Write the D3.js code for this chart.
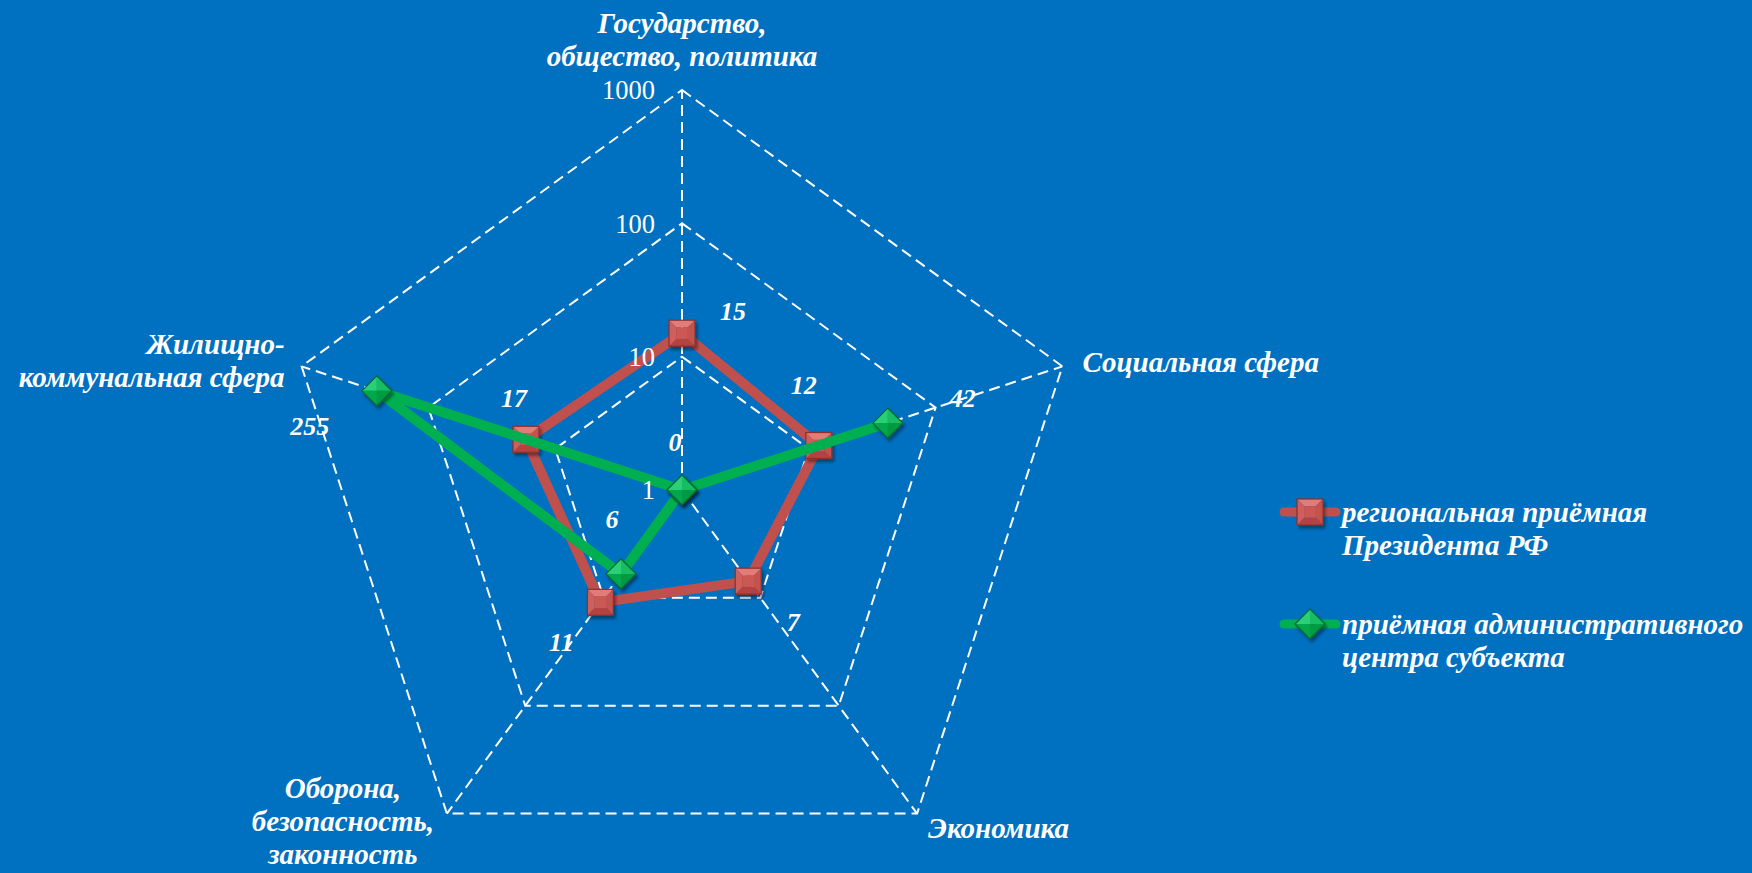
<!DOCTYPE html>
<html>
<head>
<meta charset="utf-8">
<script src="https://cdn.jsdelivr.net/npm/d3@7"></script>
<style>
  html, body { margin: 0; padding: 0; background: #0070C0; overflow: hidden; }
  svg { display: block; }
  text { font-family: "Liberation Serif", "Times New Roman", serif; fill: #fff; }
</style>
</head>
<body>
<svg id="chart" width="1752" height="873"></svg>
<script>
// categories (clockwise from top)
var categories = [
  ["Государство,", "общество, политика"],
  ["Социальная сфера"],
  ["Экономика"],
  ["Оборона,", "безопасность,", "законность"],
  ["Жилищно-", "коммунальная сфера"]
];
var seriesNames = [
  ["региональная приёмная", "Президента РФ"],
  ["приёмная административного", "центра субъекта"]
];
var redValues = [15, 12, 7, 11, 17];
var greenValues = [0, 42, 0, 6, 255];
var redLabels = ["15", "12", "7", "11", "17"];
var greenLabels = ["0", "42", "", "6", "255"];
var tickValues = [1, 10, 100, 1000];

// label placement (style only)
var redLabelOffsets = [[51, -22], [-15, -61], [45, 41], [-39, 40], [-12, -41]];
var greenLabelOffsets = [[-7, -48], [75, -25], [0, 0], [-9, -55], [-67, 35]];

var svg = d3.select("#chart");
var cx = 682, cy = 490, R = 400;

var rScale = d3.scaleLog().domain([1, 1000]).range([0, R]);
function rad(v) { return v <= 1 ? 0 : rScale(v); }
function angle(i) { return (-90 + 72 * i) * Math.PI / 180; }
function pt(i, v) {
  var r = rad(v);
  return [cx + r * Math.cos(angle(i)), cy + r * Math.sin(angle(i))];
}

var defs = svg.append("defs");
var f = defs.append("filter").attr("id", "shadow").attr("x", "-50%").attr("y", "-50%").attr("width", "200%").attr("height", "200%");
f.append("feGaussianBlur").attr("in", "SourceAlpha").attr("stdDeviation", 1.5);
f.append("feOffset").attr("dx", 2).attr("dy", 3).attr("result", "ob");
f.append("feComponentTransfer").append("feFuncA").attr("type", "linear").attr("slope", 0.4);
var fm = f.append("feMerge");
fm.append("feMergeNode");
fm.append("feMergeNode").attr("in", "SourceGraphic");

// grid rings
var grid = svg.append("g").attr("class", "grid");
tickValues.slice(1).forEach(function(t) {
  var ring = d3.range(5).map(function(i) { return pt(i, t); });
  grid.append("path")
    .attr("d", d3.line()(ring) + "Z")
    .attr("fill", "none")
    .attr("stroke", "#fff")
    .attr("stroke-width", 2)
    .attr("stroke-dasharray", "11,6");
});
d3.range(5).forEach(function(i) {
  var p = pt(i, 1000);
  grid.append("line")
    .attr("x1", cx).attr("y1", cy)
    .attr("x2", p[0]).attr("y2", p[1])
    .attr("stroke", "#fff")
    .attr("stroke-width", 2)
    .attr("stroke-dasharray", "11,6");
});

// category labels
var catPos = [
  { anchor: "middle", dx: 0, dy: -57 },
  { anchor: "start", dx: 20, dy: 6 },
  { anchor: "start", dx: 11, dy: 24 },
  { anchor: "middle", dx: -104, dy: -16 },
  { anchor: "end", dx: -17, dy: -12 }
];
categories.forEach(function(lines, i) {
  var p = pt(i, 1000);
  var t = svg.append("text")
    .attr("text-anchor", catPos[i].anchor)
    .style("font-size", "29px")
    .style("font-weight", "bold")
    .style("font-style", "italic");
  lines.forEach(function(l, k) {
    t.append("tspan")
      .attr("x", p[0] + catPos[i].dx)
      .attr("y", p[1] + catPos[i].dy + k * (i === 3 ? 33 : 32.5))
      .text(l);
  });
});

function drawSquare(g, x, y, s) {
  var h = s / 2, q = s * 0.22;
  var m = g.append("g").attr("transform", "translate(" + x + "," + y + ")").attr("filter", "url(#shadow)");
  var faces = [
    { c: "#E27C78", p: [[-h, -h], [h, -h], [q, -q], [-q, -q]] },
    { c: "#C4524E", p: [[h, -h], [h, h], [q, q], [q, -q]] },
    { c: "#B4423F", p: [[h, h], [-h, h], [-q, q], [q, q]] },
    { c: "#CE5E5A", p: [[-h, h], [-h, -h], [-q, -q], [-q, q]] }
  ];
  faces.forEach(function(fc) {
    m.append("path").attr("d", d3.line()(fc.p) + "Z").attr("fill", fc.c);
  });
  m.append("rect").attr("x", -q).attr("y", -q).attr("width", 2 * q).attr("height", 2 * q).attr("fill", "#CC5955");
  m.append("rect").attr("x", -h).attr("y", -h).attr("width", s).attr("height", s)
    .attr("fill", "none").attr("stroke", "#8E2F2C").attr("stroke-width", 1.2);
}

function drawDiamond(g, x, y, s) {
  var h = s / 2;
  var m = g.append("g").attr("transform", "translate(" + x + "," + y + ")").attr("filter", "url(#shadow)");
  var faces = [
    { c: "#2BCF77", p: [[-h, 0], [0, -h], [0, 0]] },
    { c: "#16BD63", p: [[0, -h], [h, 0], [0, 0]] },
    { c: "#009A43", p: [[h, 0], [0, h], [0, 0]] },
    { c: "#00A84B", p: [[0, h], [-h, 0], [0, 0]] }
  ];
  faces.forEach(function(fc) {
    m.append("path").attr("d", d3.line()(fc.p) + "Z").attr("fill", fc.c);
  });
  m.append("path").attr("d", d3.line()([[-h, 0], [0, -h], [h, 0], [0, h]]) + "Z")
    .attr("fill", "none").attr("stroke", "#00682F").attr("stroke-width", 1.2);
}

function drawSeries(values, color, marker) {
  var pts = values.map(function(v, i) { return pt(i, v); });
  var g = svg.append("g");
  g.append("path")
    .attr("d", d3.line()(pts) + "Z")
    .attr("fill", "none")
    .attr("stroke", color)
    .attr("stroke-width", 10)
    .attr("stroke-linejoin", "round");
  pts.forEach(function(p) { marker(g, p[0], p[1]); });
}

drawSeries(redValues, "#C0504D", function(g, x, y) { drawSquare(g, x, y, 26); });
drawSeries(greenValues, "#00B050", function(g, x, y) { drawDiamond(g, x, y, 30); });

// tick labels (drawn over the lines)
svg.append("g").selectAll("text")
  .data(tickValues)
  .enter().append("text")
  .attr("x", cx - 27)
  .attr("y", function(d) { return cy - rad(d); })
  .attr("dy", "0.35em")
  .attr("text-anchor", "end")
  .style("font-size", "26.5px")
  .text(function(d) { return d; });

// data labels
function drawLabels(values, labels, offsets) {
  svg.append("g").selectAll("text")
    .data(values)
    .enter().append("text")
    .attr("x", function(d, i) { return pt(i, d)[0] + offsets[i][0]; })
    .attr("y", function(d, i) { return pt(i, d)[1] + offsets[i][1]; })
    .attr("dy", "0.35em")
    .attr("text-anchor", "middle")
    .style("font-size", "26px")
    .style("font-weight", "bold")
    .style("font-style", "italic")
    .text(function(d, i) { return labels[i]; });
}
drawLabels(redValues, redLabels, redLabelOffsets);
drawLabels(greenValues, greenLabels, greenLabelOffsets);

// legend
var legend = svg.append("g");
var legendY = [512, 624];
seriesNames.forEach(function(lines, k) {
  var y = legendY[k];
  var color = k === 0 ? "#C0504D" : "#00B050";
  legend.append("line")
    .attr("x1", 1284).attr("x2", 1336)
    .attr("y1", y).attr("y2", y)
    .attr("stroke", color)
    .attr("stroke-width", 9)
    .attr("stroke-linecap", "round");
  if (k === 0) drawSquare(legend, 1310, y, 26);
  else drawDiamond(legend, 1310, y, 30);
  var t = legend.append("text")
    .style("font-size", "29px")
    .style("font-weight", "bold")
    .style("font-style", "italic");
  lines.forEach(function(l, j) {
    t.append("tspan")
      .attr("x", 1342)
      .attr("y", y + 10 + j * 33)
      .text(l);
  });
});
</script>
</body>
</html>
